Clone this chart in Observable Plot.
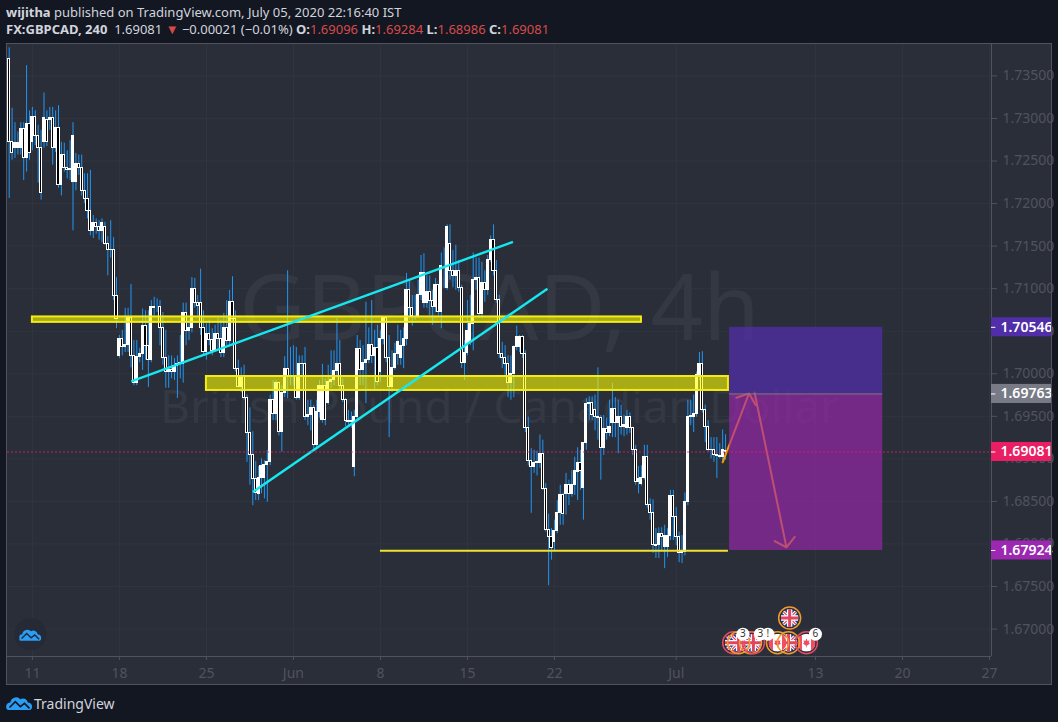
<!DOCTYPE html>
<html><head><meta charset="utf-8">
<script src="https://cdn.jsdelivr.net/npm/d3@7"></script>
<script src="https://cdn.jsdelivr.net/npm/@observablehq/plot@0.6"></script>
<style>
html,body{margin:0;padding:0;background:#131722;width:1058px;height:722px;overflow:hidden;font-family:"Noto Sans",sans-serif}
#head{height:43px;padding-left:6px;color:#d1d4dc;font-size:13px;line-height:17px;box-sizing:border-box;padding-top:4px;white-space:nowrap}
#head b{font-weight:700}
#head .r{color:#d84a4a}
#chart{margin-left:6px;width:1046px;height:642px}
#chart svg{display:block;outline:1px solid #50535e;outline-offset:-1px}
#foot{height:37px;position:relative;color:#d1d4dc;font-size:14px}
#foot svg{position:absolute;left:6px;top:10px}
#foot span{position:absolute;left:34px;top:9px}
</style></head><body>
<div id="head">
<div><b>wijitha</b> published on TradingView.com, July 05, 2020 22:16:40 IST</div>
<div><b>FX:GBPCAD, 240</b>&nbsp; 1.69081 <span class="r">▼</span> −0.00021 (−0.01%) <b>O:</b><span class="r">1.69096</span> <b>H:</b><span class="r">1.69284</span> <b>L:</b><span class="r">1.68986</span> <b>C:</b><span class="r">1.69081</span></div>
</div>
<div id="chart"></div>
<div id="foot"><svg width="27" height="15" viewBox="0 0 30 18"><path d="M1 18a5 5 0 0 1 3-9 7 7 0 0 1 12-4 6 6 0 0 1 9 4 5 5 0 0 1 3 9z" fill="#2a9df4"/><path d="M3 15 10 8l6 6 5-4 6 6" fill="none" stroke="#131722" stroke-width="2"/></svg><span>TradingView</span></div>
<script>
const opens = [
1.7370,1.7272,1.7265,1.7265,1.7265,1.7288,1.7253,1.7294,1.7272,1.7302,
1.7279,1.7265,1.7272,1.7298,1.7298,1.7301,1.7265,1.7289,1.7222,1.7257,
1.7242,1.7239,1.7225,1.7225,1.7246,1.7242,1.7215,1.7205,1.7191,1.7168,
1.7177,1.7172,1.7168,1.7173,1.7153,1.7145,1.7146,1.7091,1.7021,1.7041,
1.7031,1.7034,1.7066,1.7021,1.6989,1.7020,1.7023,1.7056,1.7033,1.7016,
1.7078,1.7078,1.7078,1.7054,1.7019,1.7002,1.7004,1.7002,1.7009,1.7011,
1.7012,1.7072,1.7050,1.7054,1.7100,1.7083,1.7083,1.7054,1.7026,1.7047,
1.7040,1.7027,1.7047,1.7041,1.7024,1.7054,1.7038,1.7084,1.7064,1.7006,
1.6985,1.6996,1.6972,1.6931,1.6904,1.6876,1.6859,1.6878,1.6878,1.6893,
1.6896,1.6969,1.6953,1.6989,1.6932,1.6977,1.7006,1.6996,1.6996,1.6996,
1.6972,1.7011,1.7012,1.6949,1.6952,1.6960,1.6916,1.6955,1.6946,1.6986,
1.6966,1.6990,1.6993,1.7003,1.7011,1.6986,1.6969,1.6944,1.6943,1.6890,
1.6949,1.7029,1.7005,1.7013,1.7016,1.7034,1.7021,1.7030,1.7002,1.7041,
1.7065,1.7018,1.6984,1.7007,1.7023,1.7018,1.7033,1.7041,1.7099,1.7077,
1.7068,1.7068,1.7093,1.7083,1.7083,1.7096,1.7086,1.7078,1.7104,1.7073,
1.7127,1.7101,1.7153,1.7121,1.7115,1.7121,1.7101,1.7013,1.7025,1.7037,
1.7058,1.7110,1.7112,1.7070,1.7107,1.7099,1.7134,1.7157,1.7121,1.7087,
1.7023,1.7019,1.7012,1.6989,1.7000,1.7031,1.7031,1.7043,1.7023,1.6936,
1.6898,1.6891,1.6895,1.6895,1.6906,1.6865,1.6817,1.6808,1.6802,1.6815,
1.6836,1.6858,1.6859,1.6869,1.6859,1.6869,1.6885,1.6895,1.6866,1.6919,
1.6965,1.6966,1.6958,1.6949,1.6948,1.6913,1.6935,1.6930,1.6942,1.6959,
1.6942,1.6949,1.6937,1.6936,1.6949,1.6936,1.6911,1.6873,1.6871,1.6878,
1.6902,1.6846,1.6836,1.6799,1.6799,1.6812,1.6796,1.6796,1.6809,1.6856,
1.6832,1.6808,1.6790,1.6791,1.6849,1.6949,1.6949,1.6953,1.6998,1.7012,
1.6958,1.6937,1.6911,1.6910,1.6904,1.6903,1.6902,1.69096];
const closes = [
1.7272,1.7259,1.7271,1.7271,1.7288,1.7253,1.7294,1.7259,1.7302,1.7279,
1.7265,1.7213,1.7300,1.7272,1.7301,1.7265,1.7289,1.7222,1.7257,1.7242,
1.7239,1.7241,1.7279,1.7246,1.7242,1.7215,1.7205,1.7191,1.7168,1.7177,
1.7172,1.7168,1.7177,1.7153,1.7145,1.7146,1.7091,1.7064,1.7041,1.7031,
1.7034,1.7066,1.7021,1.6989,1.7020,1.7023,1.7056,1.7033,1.7016,1.7078,
1.7077,1.7078,1.7054,1.7019,1.7002,1.7004,1.7002,1.7009,1.7011,1.7013,
1.7072,1.7050,1.7054,1.7100,1.7083,1.7080,1.7054,1.7026,1.7047,1.7040,
1.7027,1.7047,1.7041,1.7024,1.7054,1.7038,1.7084,1.7064,1.7006,1.6985,
1.6996,1.6972,1.6931,1.6904,1.6876,1.6860,1.6878,1.6892,1.6893,1.6896,
1.6969,1.6953,1.6989,1.6932,1.6977,1.7006,1.6996,1.6996,1.6996,1.6972,
1.7011,1.7012,1.6949,1.6952,1.6960,1.6916,1.6955,1.6986,1.6986,1.6946,
1.6990,1.6993,1.7003,1.7011,1.6986,1.6969,1.6944,1.6943,1.6945,1.6949,
1.7029,1.7005,1.7013,1.7016,1.7034,1.7021,1.7030,1.6990,1.7041,1.7065,
1.7018,1.6984,1.7007,1.7023,1.7037,1.7033,1.7041,1.7099,1.7077,1.7068,
1.7068,1.7093,1.7118,1.7118,1.7096,1.7086,1.7078,1.7104,1.7073,1.7127,
1.7127,1.7173,1.7121,1.7115,1.7121,1.7101,1.7013,1.7025,1.7050,1.7058,
1.7110,1.7112,1.7070,1.7107,1.7099,1.7134,1.7157,1.7121,1.7087,1.7023,
1.7019,1.7012,1.6989,1.7000,1.7031,1.7043,1.7043,1.7023,1.6936,1.6898,
1.6891,1.6895,1.6896,1.6906,1.6865,1.6817,1.6808,1.6795,1.6815,1.6836,
1.6858,1.6835,1.6869,1.6859,1.6869,1.6886,1.6895,1.6886,1.6919,1.6965,
1.6966,1.6951,1.6949,1.6948,1.6913,1.6935,1.6930,1.6938,1.6959,1.6942,
1.6949,1.6937,1.6940,1.6949,1.6936,1.6911,1.6873,1.6876,1.6878,1.6902,
1.6846,1.6836,1.6799,1.6798,1.6812,1.6808,1.6809,1.6809,1.6856,1.6832,
1.6808,1.6790,1.6792,1.6849,1.6949,1.6950,1.6953,1.6998,1.7012,1.6958,
1.6937,1.6911,1.6910,1.6904,1.6903,1.6902,1.6911,1.69081];
const highs = [
1.7383,1.7312,1.7295,1.7284,1.7295,1.7295,1.7362,1.7309,1.7313,1.7309,
1.7292,1.7286,1.7330,1.7309,1.7313,1.7313,1.7309,1.7315,1.7272,1.7271,
1.7262,1.7274,1.7295,1.7259,1.7257,1.7257,1.7235,1.7235,1.7239,1.7186,
1.7182,1.7180,1.7182,1.7178,1.7161,1.7180,1.7160,1.7113,1.7045,1.7051,
1.7077,1.7077,1.7105,1.7039,1.7039,1.7030,1.7076,1.7074,1.7074,1.7086,
1.7090,1.7088,1.7086,1.7072,1.7051,1.7021,1.7021,1.7018,1.7021,1.7045,
1.7083,1.7083,1.7063,1.7113,1.7112,1.7092,1.7123,1.7074,1.7059,1.7063,
1.7053,1.7057,1.7065,1.7063,1.7071,1.7086,1.7098,1.7114,1.7074,1.7016,
1.7007,1.7010,1.6975,1.6960,1.6932,1.6897,1.6891,1.6900,1.6898,1.6910,
1.6975,1.6992,1.6992,1.6990,1.6986,1.7020,1.7121,1.7031,1.7033,1.7031,
1.7021,1.7021,1.7031,1.6969,1.6969,1.6963,1.6969,1.6992,1.7011,1.6994,
1.7010,1.7027,1.7027,1.7065,1.7039,1.6994,1.6971,1.6957,1.6955,1.6957,
1.7045,1.7039,1.7033,1.7084,1.7054,1.7086,1.7051,1.7057,1.7051,1.7067,
1.7067,1.7045,1.7027,1.7036,1.7057,1.7051,1.7054,1.7118,1.7110,1.7092,
1.7092,1.7110,1.7139,1.7141,1.7115,1.7115,1.7098,1.7112,1.7104,1.7142,
1.7148,1.7175,1.7175,1.7145,1.7151,1.7133,1.7104,1.7039,1.7086,1.7092,
1.7142,1.7136,1.7136,1.7131,1.7121,1.7139,1.7162,1.7175,1.7133,1.7092,
1.7037,1.7033,1.7021,1.7021,1.7033,1.7056,1.7045,1.7045,1.7027,1.6949,
1.6912,1.6910,1.6909,1.6928,1.6922,1.6871,1.6835,1.6818,1.6828,1.6851,
1.6869,1.6860,1.6883,1.6875,1.6886,1.6902,1.6913,1.6910,1.6919,1.6971,
1.6973,1.6973,1.6975,1.7007,1.6951,1.6951,1.6948,1.6969,1.6989,1.6972,
1.6969,1.6963,1.6951,1.6957,1.6954,1.6937,1.6916,1.6891,1.6892,1.6916,
1.6916,1.6853,1.6852,1.6818,1.6819,1.6819,1.6822,1.6818,1.6863,1.6863,
1.6843,1.6814,1.6810,1.6860,1.6969,1.6969,1.6975,1.7002,1.7025,1.7026,
1.6963,1.6945,1.6925,1.6925,1.6925,1.6918,1.6934,1.69284];
const lows = [
1.7206,1.7251,1.7253,1.7257,1.7257,1.7227,1.7237,1.7251,1.7262,1.7268,
1.7224,1.7204,1.7265,1.7267,1.7286,1.7245,1.7260,1.7218,1.7209,1.7237,
1.7229,1.7227,1.7168,1.7215,1.7233,1.7209,1.7200,1.7182,1.7162,1.7159,
1.7164,1.7157,1.7154,1.7151,1.7115,1.7136,1.7086,1.7053,1.7018,1.7021,
1.7025,1.7025,1.7007,1.6986,1.6986,1.7013,1.7004,1.7016,1.6984,1.7013,
1.7068,1.7072,1.7033,1.7010,1.6983,1.6983,1.6994,1.6992,1.6971,1.6994,
1.6989,1.7033,1.7039,1.7048,1.7077,1.7068,1.7045,1.7021,1.7016,1.7033,
1.7021,1.7025,1.7027,1.7019,1.7019,1.7033,1.7033,1.7060,1.7002,1.6983,
1.6978,1.6969,1.6896,1.6869,1.6845,1.6851,1.6851,1.6859,1.6853,1.6849,
1.6892,1.6945,1.6945,1.6927,1.6908,1.6972,1.6971,1.6986,1.6986,1.6969,
1.6969,1.6998,1.6945,1.6939,1.6933,1.6910,1.6912,1.6948,1.6942,1.6939,
1.6963,1.6983,1.6986,1.6998,1.6980,1.6966,1.6938,1.6939,1.6936,1.6879,
1.6944,1.6986,1.6986,1.6965,1.7012,1.7012,1.6980,1.6986,1.6990,1.7034,
1.7013,1.6925,1.6978,1.7004,1.7010,1.7010,1.7006,1.7033,1.7063,1.7056,
1.7063,1.7065,1.7086,1.7077,1.7077,1.7068,1.7057,1.7072,1.7068,1.7053,
1.7100,1.7098,1.7110,1.7101,1.7098,1.7096,1.7006,1.6992,1.7021,1.7033,
1.7027,1.7098,1.7065,1.7065,1.7084,1.7092,1.7131,1.7115,1.7083,1.7018,
1.7006,1.6998,1.6972,1.6969,1.6972,1.7027,1.7025,1.7018,1.6931,1.6892,
1.6836,1.6883,1.6880,1.6889,1.6863,1.6814,1.6751,1.6781,1.6792,1.6812,
1.6822,1.6822,1.6834,1.6845,1.6855,1.6857,1.6851,1.6863,1.6828,1.6910,
1.6945,1.6945,1.6933,1.6922,1.6875,1.6904,1.6922,1.6926,1.6925,1.6925,
1.6906,1.6928,1.6926,1.6928,1.6930,1.6904,1.6869,1.6859,1.6868,1.6875,
1.6842,1.6828,1.6789,1.6783,1.6783,1.6792,1.6771,1.6784,1.6804,1.6804,
1.6798,1.6778,1.6777,1.6786,1.6845,1.6939,1.6931,1.6949,1.6992,1.6954,
1.6919,1.6908,1.6900,1.6896,1.6877,1.6900,1.6896,1.68986];

const xTicks = [8,38,68,98,128,158,188,230,278,308,338];
const xTickLabels = ["11","18","25","Jun","8","15","22","Jul","13","20","27"];
const priceTicks = [1.67,1.675,1.68,1.685,1.69,1.695,1.70,1.705,1.71,1.715,1.72,1.725,1.73,1.735];
const xMin = -0.586, xMax = 338.7, yMin = 1.66678, yMax = 1.73869;

const candles = d3.range(opens.length).map(i => ({i, o: opens[i], c: closes[i], h: highs[i], l: lows[i]}));

const zones = [
  {x1: 8, x2: 218, y1: 1.70604, y2: 1.70668},
  {x1: 68, x2: 248, y1: 1.69804, y2: 1.69968}
];
const supportPrice = 1.6792, supportFrom = 128, supportTo = 248;
const trends = [
  {x1: 42.1, y1: 1.6991, x2: 173.7, y2: 1.7155},
  {x1: 84, y1: 1.6861, x2: 185.6, y2: 1.7100}
];
const arrows = [
  {x1: 246, y1: 1.6896, x2: 255.1, y2: 1.6977},
  {x1: 257, y1: 1.6978, x2: 268, y2: 1.6796}
];
const boxFrom = 248.4, boxTo = 301.2;
const stopPrice = 1.70546, entryPrice = 1.69763, targetPrice = 1.67924, lastPrice = 1.69081;
const priceTags = [
  {p: stopPrice, fill: "#512da8"},
  {p: entryPrice, fill: "#787b86"},
  {p: lastPrice, fill: "#e91e63"},
  {p: targetPrice, fill: "#9c27b0"}
];

const ukFlag = "data:image/svg+xml," + encodeURIComponent('<svg xmlns="http://www.w3.org/2000/svg" viewBox="0 0 60 60"><rect width="60" height="60" fill="#27408b"/><path d="M0 0 60 60M60 0 0 60" stroke="#fff" stroke-width="11"/><path d="M0 0 60 60M60 0 0 60" stroke="#e0455f" stroke-width="4"/><path d="M30 0V60M0 30H60" stroke="#fff" stroke-width="18"/><path d="M30 0V60M0 30H60" stroke="#e0455f" stroke-width="10"/></svg>');
const caFlag = "data:image/svg+xml," + encodeURIComponent('<svg xmlns="http://www.w3.org/2000/svg" viewBox="0 0 60 60"><rect width="60" height="60" fill="#fff"/><rect width="15" height="60" fill="#ef4d63"/><rect x="45" width="15" height="60" fill="#ef4d63"/><path d="M30 16l4 8 6-2-2 9 4 2-12 8-12-8 4-2-2-9 6 2z M29 38h2v8h-2z" fill="#ef4d63"/></svg>');
const cloud = "data:image/svg+xml," + encodeURIComponent('<svg xmlns="http://www.w3.org/2000/svg" viewBox="0 0 30 18"><path d="M1 18a5 5 0 0 1 3-9 7 7 0 0 1 12-4 6 6 0 0 1 9 4 5 5 0 0 1 3 9z" fill="#2a9df4"/><path d="M3 15 10 8l6 6 5-4 6 6" fill="none" stroke="#262a36" stroke-width="2"/></svg>');

const flagRowPrice = 1.6684, flagUpperPrice = 1.6713, badgePrice = 1.6694;
const events = [
  {x: 249.8, y: flagRowPrice, src: ukFlag, ring: "#e84a62"},
  {x: 251.5, y: flagRowPrice, src: ukFlag, ring: "#f29a2e"},
  {x: 255.6, y: flagRowPrice, src: ukFlag, ring: "#f29a2e"},
  {x: 256.6, y: flagRowPrice, src: ukFlag, ring: "#e84a62"},
  {x: 268.7, y: flagRowPrice, src: ukFlag, ring: "#f29a2e"},
  {x: 264.9, y: flagRowPrice, src: caFlag, ring: "#f29a2e"},
  {x: 274.9, y: flagRowPrice, src: caFlag, ring: "#e84a62"},
  {x: 269.1, y: flagUpperPrice, src: ukFlag, ring: "#f29a2e"}
];
const badges = [
  {x: 253, t: "3"},
  {x: 259, t: "3"},
  {x: 261.6, t: "!"},
  {x: 278, t: "6"}
];

const plot = Plot.plot({
  width: 1046, height: 642,
  marginLeft: 1, marginRight: 61, marginTop: 1, marginBottom: 29,
  x: {domain: [xMin, xMax]},
  y: {domain: [yMin, yMax]},
  style: {background: "#2a2e39", color: "#50535e", fontFamily: "'Noto Sans',sans-serif", fontSize: "13px", overflow: "visible"},
  marks: [
    Plot.gridX(xTicks, {stroke: "#31353f", strokeOpacity: 1}),
    Plot.gridY(priceTicks, {stroke: "#31353f", strokeOpacity: 1}),
    Plot.text(["GBPCAD, 4h"], {frameAnchor: "middle", dy: -40, fontSize: 92, fill: "#343843", fontFamily: "'Noto Sans',sans-serif"}),
    Plot.text(["British Pound / Canadian Dollar"], {frameAnchor: "middle", dy: 58, fontSize: 46, fill: "#343843", fontFamily: "'Noto Sans',sans-serif"}),
    Plot.ruleX(candles, {x: "i", y1: "l", y2: "h", stroke: "#2196f3", strokeWidth: 1}),
    Plot.rect(candles, {x1: d => d.i - 0.36, x2: d => d.i + 0.36, y1: "o", y2: "c",
      fill: d => d.c >= d.o ? "#ffffff" : "#000000", stroke: "#ffffff", strokeWidth: 1, shapeRendering: "crispEdges"}),
    Plot.rect(zones, {x1: "x1", x2: "x2", y1: "y1", y2: "y2", fill: "#ffff00", fillOpacity: 0.6, stroke: "#f5ec16", strokeWidth: 2}),
    Plot.ruleY([supportPrice], {x1: supportFrom, x2: supportTo, stroke: "#f0e130", strokeWidth: 2}),
    Plot.link(trends, {x1: "x1", y1: "y1", x2: "x2", y2: "y2", stroke: "#16e8f0", strokeWidth: 2.4}),
    Plot.arrow(arrows, {x1: "x1", y1: "y1", x2: "x2", y2: "y2", bend: 0, stroke: "#ff9800", strokeWidth: 2, headLength: 10, headAngle: 100}),
    Plot.rect([{a: stopPrice, b: entryPrice}], {x1: boxFrom, x2: boxTo, y1: "a", y2: "b", fill: "#512da8", fillOpacity: 0.75}),
    Plot.rect([{a: entryPrice, b: targetPrice}], {x1: boxFrom, x2: boxTo, y1: "a", y2: "b", fill: "#9c27b0", fillOpacity: 0.65}),
    Plot.ruleY([entryPrice], {x1: boxFrom, x2: boxTo, stroke: "#787b86"}),
    Plot.ruleY([lastPrice], {x1: xMin, x2: xMax, stroke: "#e91e63", strokeOpacity: 0.8, strokeDasharray: "2,2"}),
    Plot.dot([1], {x: 7.3, y: badgePrice, r: 16, fill: "#262a36"}),
    Plot.image([1], {x: 7.3, y: badgePrice, src: cloud, width: 22, height: 14}),
    Plot.image(events, {x: "x", y: "y", src: "src", width: 18, height: 18, r: 9}),
    Plot.dot(events, {x: "x", y: "y", r: 11, stroke: "ring", strokeWidth: 1.5, fill: "none"}),
    Plot.dot(badges, {x: "x", y: badgePrice, r: 6.5, fill: "#ffffff"}),
    Plot.text(badges, {x: "x", y: badgePrice, text: "t", fill: "#333333", fontSize: 10}),
    Plot.ruleX([xMax], {stroke: "#50535e"}),
    Plot.ruleY([yMin], {stroke: "#50535e"}),
    Plot.axisX(xTicks, {anchor: "bottom", tickSize: 4, tickPadding: 8, fontSize: 14, label: null, tickFormat: d => xTickLabels[xTicks.indexOf(d)], color: "#50535e"}),
    Plot.axisY(priceTicks, {anchor: "right", tickSize: 5, tickPadding: 6, fontSize: 14, label: null, tickFormat: d3.format(".5f"), color: "#50535e"}),
    Plot.rect(priceTags, {x1: xMax, x2: xMax + 20.7, y1: d => d.p - 0.00112, y2: d => d.p + 0.00112, fill: "fill"}),
    Plot.ruleY(priceTags, {y: "p", x1: xMax, x2: xMax + 1.5, stroke: "#ffffff"}),
    Plot.text(priceTags, {x: xMax, y: "p", text: d => d.p.toFixed(5), dx: 9, textAnchor: "start", fill: "#ffffff", fontWeight: 600, fontSize: 14})
  ]
});
document.getElementById("chart").appendChild(plot);
</script>
</body></html>
